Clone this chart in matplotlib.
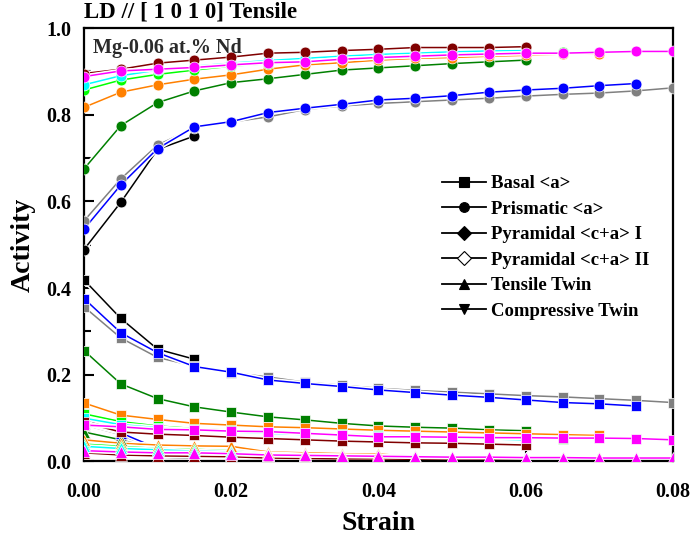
import matplotlib
matplotlib.use("Agg")
import matplotlib.pyplot as plt
from matplotlib.lines import Line2D
from matplotlib.ticker import MultipleLocator
import matplotlib.patheffects as pe

plt.rcParams['font.family'] = ['Liberation Serif', 'DejaVu Serif']
plt.rcParams['font.weight'] = 'bold'

strain = [0.000, 0.005, 0.010, 0.015, 0.020, 0.025, 0.030, 0.035, 0.040,
          0.045, 0.050, 0.055, 0.060, 0.065, 0.070, 0.075, 0.080]

series_names = ['black', 'gray', 'blue', 'green', 'orange', 'lime', 'cyan', 'maroon', 'magenta']
series_colors = ['#000000', '#808080', '#0000FF', '#008000', '#FF8000',
                 '#00FF00', '#00FFFF', '#800000', '#FF00FF']

prismatic = {
    'black':   [0.489, 0.598, 0.720, 0.751],
    'gray':    [0.555, 0.652, 0.730, 0.770, 0.783, 0.795, 0.812, 0.820, 0.826, 0.830, 0.834, 0.838, 0.843, 0.847, 0.850, 0.855, 0.862],
    'blue':    [0.536, 0.638, 0.722, 0.772, 0.784, 0.805, 0.815, 0.824, 0.834, 0.838, 0.844, 0.852, 0.857, 0.861, 0.867, 0.872],
    'green':   [0.675, 0.775, 0.828, 0.855, 0.874, 0.883, 0.893, 0.903, 0.908, 0.913, 0.918, 0.922, 0.926],
    'orange':  [0.817, 0.852, 0.869, 0.882, 0.892, 0.905, 0.915, 0.920, 0.926, 0.930, 0.932, 0.935, 0.937, 0.940, 0.941],
    'lime':    [0.857, 0.880, 0.893, 0.903, 0.912, 0.918, 0.924, 0.929, 0.933, 0.937, 0.940, 0.943, 0.945, 0.945],
    'cyan':    [0.869, 0.890, 0.903, 0.912, 0.919, 0.925, 0.930, 0.935, 0.939, 0.942, 0.945, 0.947, 0.948],
    'maroon':  [0.895, 0.905, 0.919, 0.926, 0.933, 0.942, 0.944, 0.948, 0.951, 0.955, 0.955, 0.955, 0.957],
    'magenta': [0.888, 0.901, 0.905, 0.909, 0.915, 0.920, 0.922, 0.928, 0.932, 0.935, 0.938, 0.940, 0.942, 0.942, 0.944, 0.946, 0.946],
}

basal = {
    'black':   [0.419, 0.330, 0.259, 0.236],
    'gray':    [0.357, 0.285, 0.240, 0.220, 0.205, 0.195, 0.183, 0.176, 0.169, 0.164, 0.160, 0.156, 0.152, 0.149, 0.145, 0.141, 0.136],
    'blue':    [0.376, 0.297, 0.251, 0.219, 0.206, 0.188, 0.180, 0.173, 0.165, 0.159, 0.153, 0.148, 0.142, 0.136, 0.133, 0.128],
    'green':   [0.256, 0.179, 0.145, 0.126, 0.114, 0.103, 0.096, 0.088, 0.082, 0.079, 0.077, 0.073, 0.071],
    'orange':  [0.135, 0.107, 0.097, 0.088, 0.084, 0.080, 0.078, 0.075, 0.072, 0.070, 0.068, 0.066, 0.064, 0.062, 0.060],
    'lime':    [0.110, 0.092, 0.082, 0.076, 0.072, 0.069, 0.066, 0.063, 0.061, 0.059, 0.057, 0.055, 0.054, 0.052],
    'cyan':    [0.100, 0.085, 0.078, 0.072, 0.068, 0.065, 0.062, 0.060, 0.058, 0.056, 0.054, 0.052, 0.050],
    'maroon':  [0.090, 0.068, 0.063, 0.060, 0.056, 0.053, 0.050, 0.047, 0.045, 0.043, 0.042, 0.040, 0.038],
    'magenta': [0.084, 0.080, 0.074, 0.073, 0.070, 0.069, 0.065, 0.061, 0.057, 0.057, 0.056, 0.055, 0.055, 0.054, 0.054, 0.053, 0.050],
}

tensile_twin = {
    'black':   [0.095, 0.070, 0.010, 0.008],
    'gray':    [0.085, 0.062, 0.022, 0.012, 0.010, 0.008, 0.007, 0.006, 0.006, 0.005, 0.005, 0.005, 0.004, 0.004, 0.004, 0.004, 0.004],
    'blue':    [0.088, 0.066, 0.030, 0.012, 0.010, 0.008, 0.007, 0.006, 0.006, 0.005, 0.005, 0.005, 0.004, 0.004, 0.004, 0.004],
    'green':   [0.068, 0.050, 0.028, 0.020, 0.016, 0.013, 0.011, 0.010, 0.009, 0.008, 0.008, 0.007, 0.007],
    'orange':  [0.050, 0.042, 0.038, 0.036, 0.035, 0.022, 0.020, 0.018, 0.017, 0.012, 0.010, 0.009, 0.009, 0.008, 0.008],
    'lime':    [0.040, 0.035, 0.030, 0.028, 0.025, 0.018, 0.015, 0.013, 0.012, 0.010, 0.009, 0.008, 0.008, 0.007],
    'cyan':    [0.035, 0.030, 0.027, 0.024, 0.022, 0.016, 0.014, 0.012, 0.011, 0.010, 0.009, 0.008, 0.008],
    'maroon':  [0.020, 0.015, 0.013, 0.012, 0.011, 0.008, 0.007, 0.006, 0.006, 0.005, 0.005, 0.005, 0.004],
    'magenta': [0.025, 0.022, 0.020, 0.020, 0.018, 0.015, 0.014, 0.013, 0.012, 0.011, 0.010, 0.010, 0.009, 0.009, 0.008, 0.008, 0.008],
}

legend_labels = ['Basal <a>', 'Prismatic <a>', 'Pyramidal <c+a> I',
                 'Pyramidal <c+a> II', 'Tensile Twin', 'Compressive Twin']
legend_markers = ['s', 'o', 'D', 'D', '^', 'v']
legend_fills = ['black', 'black', 'black', 'white', 'black', 'black']

fig = plt.figure(figsize=(6.93, 5.39), dpi=100)
ax = fig.add_axes([0.1212, 0.1438, 0.8499, 0.8042])

halo = [pe.Stroke(linewidth=3.4, foreground='white'), pe.Normal()]

def draw(values, marker, ms, color):
    x = strain[:len(values)]
    ax.plot(x, values, '-', color=color, lw=1.1, path_effects=halo, zorder=2)
    ax.plot(x, values, linestyle='none', marker=marker, ms=ms, color=color,
            mec='white', mew=0.5, zorder=3)

for name, color in zip(series_names, series_colors):
    draw(tensile_twin[name], '^', 9, color)
    draw(basal[name], 's', 7.8, color)
    draw(prismatic[name], 'o', 7.8, color)

ax.set_xlim(0, 0.08)
ax.set_ylim(0, 1.0)
ax.xaxis.set_major_locator(MultipleLocator(0.02))
ax.xaxis.set_minor_locator(MultipleLocator(0.01))
ax.yaxis.set_major_locator(MultipleLocator(0.2))
ax.yaxis.set_minor_locator(MultipleLocator(0.1))
ax.xaxis.set_major_formatter(plt.FuncFormatter(lambda v, p: f'{v:.2f}'))
ax.yaxis.set_major_formatter(plt.FuncFormatter(lambda v, p: f'{v:.1f}'))
ax.tick_params(which='major', direction='in', length=7, width=1.5, labelsize=14.5)
ax.tick_params(axis='x', which='major', pad=15)
ax.tick_params(axis='y', which='major', pad=9)
ax.tick_params(which='minor', direction='in', length=5, width=1.5)
for lab in ax.get_xticklabels() + ax.get_yticklabels():
    lab.set_fontweight('bold')
for sp in ax.spines.values():
    sp.set_linewidth(1.6)

ax.set_xlabel('Strain', fontsize=20, fontweight='bold', labelpad=6)
ax.set_ylabel('Activity', fontsize=20, fontweight='bold', labelpad=8)

fig.text(0.1212, 0.958, 'LD // [ 1 0 1 0] Tensile', fontsize=16.5,
         fontweight='bold', ha='left', va='bottom')
ax.text(0.015, 0.978, 'Mg-0.06 at.% Nd', transform=ax.transAxes, fontsize=14.5,
        fontweight='bold', color='#2a2a2a', ha='left', va='top')

handles = [Line2D([0], [0], color='black', lw=1.3, marker=m, ms=7,
                  mfc=f, mec='black', mew=0.8)
           for m, f in zip(legend_markers, legend_fills)]
ax.legend(handles, legend_labels, loc='upper left', bbox_to_anchor=(0.58, 0.70),
          frameon=False, handlelength=2.3, handletextpad=0.3,
          labelspacing=0.45, prop={'weight': 'bold', 'size': 13.5})

fig.savefig('out.png', dpi=100)
